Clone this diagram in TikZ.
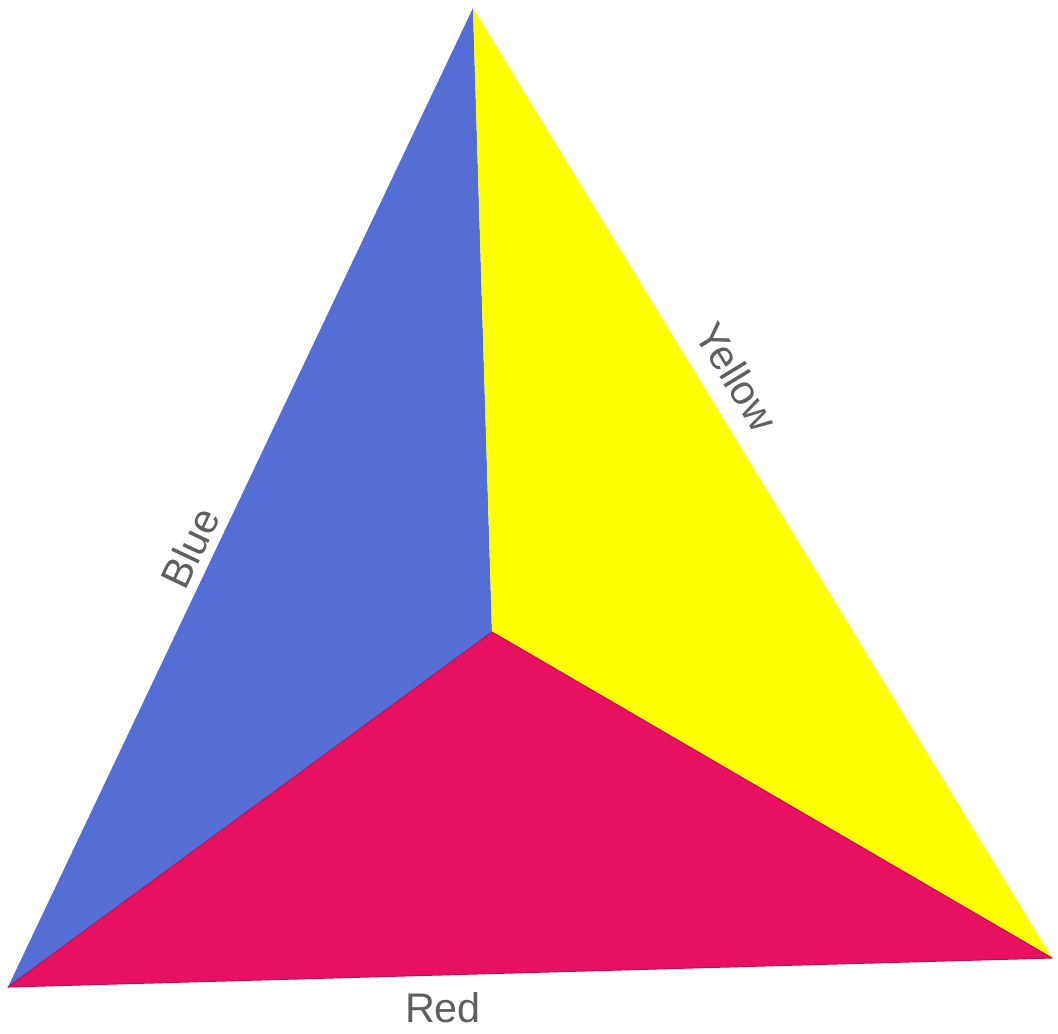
\documentclass[tikz,border=0pt]{standalone}
\usepackage{fontspec}
\setmainfont{Liberation Sans}
\usepackage{tikz}
\usetikzlibrary{positioning, calc}

\definecolor{paintblue}{RGB}{84,110,214}
\definecolor{paintyellow}{RGB}{255,255,0}
\definecolor{paintred}{RGB}{232,16,96}
\definecolor{pencil}{RGB}{95,95,95}

\begin{document}
\begin{tikzpicture}[x=0.75pt, y=-0.75pt, font=\fontsize{31}{36}\selectfont,
    face/.style={line join=round, draw=#1!85!black, line width=0.8pt, fill=#1},
    sidelabel/.style={text=pencil, inner sep=0pt}]
    \useasboundingbox (0,0) rectangle (1058,1034);
    % corners of the triangle and the inner point
    \coordinate (top) at (473,8);
    \coordinate (bl) at (8,987);
    \coordinate (br) at (1052,958);
    \coordinate (ctr) at (492,632);
    % the three painted faces
    \fill[paintblue] (top) -- (ctr) -- (bl) -- cycle;
    \fill[paintyellow] (top) -- (br) -- (ctr) -- cycle;
    \path[face=paintred] (bl) -- (ctr) -- (br) -- cycle;
    % labels along the sides
    \node[sidelabel, rotate=64.6] (blue) at (190,548) {Blue};
    \node[sidelabel, rotate=-58.6] (yellow) at (737,377) {Yellow};
    \node[sidelabel] (red) at (443,1008) {Red};
\end{tikzpicture}
\end{document}
